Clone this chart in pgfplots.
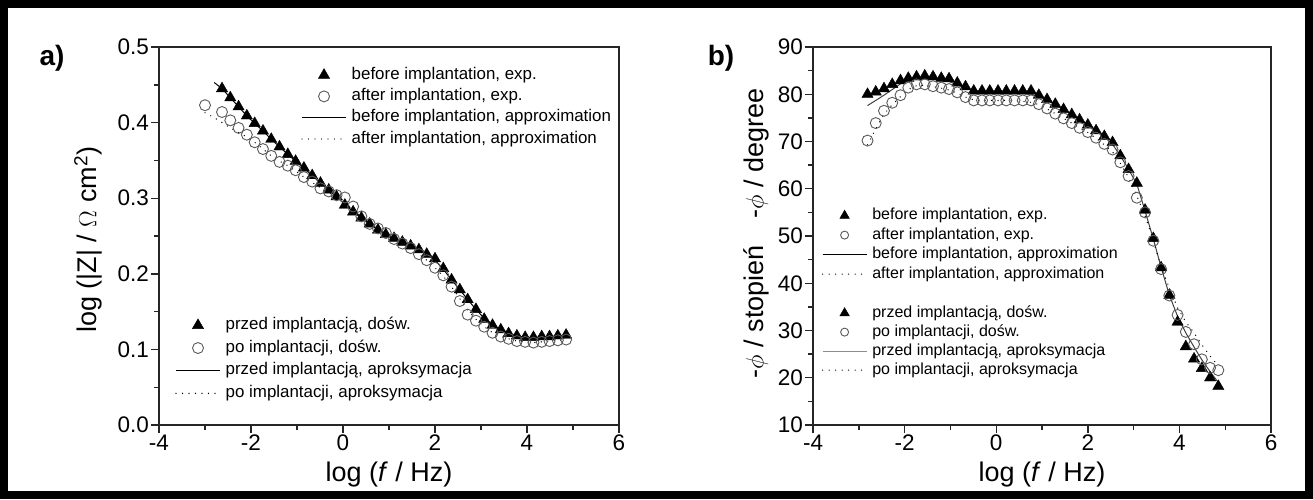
\documentclass[border=0pt]{standalone}
\usepackage{fontspec}
\setmainfont{Liberation Sans}
\usepackage{pgfplots}
\usepackage{pgfplotstable}
\pgfplotsset{compat=1.18}

% |Z| data, panel a)
\pgfplotstableread{
x y
-2.63 0.445
-2.45 0.433
-2.27 0.421
-2.09 0.409
-1.92 0.399
-1.74 0.389
-1.56 0.378
-1.38 0.368
-1.20 0.358
-1.03 0.349
-0.85 0.340
-0.67 0.330
-0.49 0.320
-0.31 0.311
-0.14 0.302
0.04 0.291
0.22 0.282
0.40 0.274
0.58 0.266
0.76 0.258
0.93 0.252
1.11 0.247
1.29 0.242
1.47 0.237
1.65 0.232
1.82 0.226
2.00 0.220
2.18 0.207
2.36 0.192
2.54 0.179
2.71 0.166
2.89 0.153
3.07 0.140
3.25 0.132
3.43 0.126
3.60 0.121
3.78 0.118
3.96 0.116
4.14 0.116
4.32 0.117
4.49 0.117
4.67 0.118
4.85 0.119
}\zbefore
\pgfplotstableread{
x y
-3.00 0.423
-2.63 0.414
-2.45 0.403
-2.27 0.393
-2.09 0.384
-1.92 0.374
-1.74 0.365
-1.56 0.356
-1.38 0.348
-1.20 0.343
-1.03 0.337
-0.85 0.328
-0.67 0.322
-0.49 0.313
-0.31 0.309
-0.14 0.304
0.04 0.301
0.22 0.289
0.40 0.276
0.58 0.266
0.76 0.260
0.93 0.254
1.11 0.246
1.29 0.240
1.47 0.234
1.65 0.226
1.82 0.218
2.00 0.208
2.18 0.198
2.36 0.183
2.54 0.164
2.71 0.146
2.89 0.138
3.07 0.130
3.25 0.122
3.43 0.117
3.60 0.114
3.78 0.111
3.96 0.110
4.14 0.109
4.32 0.110
4.49 0.111
4.67 0.112
4.85 0.113
}\zafter
\pgfplotstableread{
x y
-2.80 0.453
-2.63 0.445
-2.45 0.433
-2.27 0.421
-2.09 0.409
-1.92 0.399
-1.74 0.389
-1.56 0.378
-1.38 0.368
-1.20 0.358
-1.03 0.349
-0.85 0.340
-0.67 0.330
-0.49 0.320
-0.31 0.311
-0.14 0.302
0.04 0.292
0.22 0.282
0.40 0.274
0.58 0.266
0.76 0.258
0.93 0.252
1.11 0.247
1.29 0.242
1.47 0.237
1.65 0.232
1.82 0.226
2.00 0.218
2.18 0.206
2.36 0.192
2.54 0.179
2.71 0.166
2.89 0.153
3.07 0.141
3.25 0.132
3.43 0.126
3.60 0.121
3.78 0.118
3.96 0.116
4.14 0.116
4.32 0.116
4.49 0.117
4.67 0.118
4.85 0.119
}\zfitb
\pgfplotstableread{
x y
-3.00 0.413
-2.81 0.407
-2.63 0.400
-2.45 0.393
-2.27 0.387
-2.09 0.381
-1.92 0.374
-1.74 0.365
-1.56 0.356
-1.38 0.349
-1.20 0.343
-1.03 0.336
-0.85 0.328
-0.67 0.321
-0.49 0.314
-0.31 0.308
-0.14 0.302
0.04 0.296
0.22 0.287
0.40 0.276
0.58 0.267
0.76 0.260
0.93 0.253
1.11 0.246
1.29 0.240
1.47 0.234
1.65 0.226
1.82 0.218
2.00 0.208
2.18 0.197
2.36 0.183
2.54 0.167
2.71 0.152
2.89 0.140
3.07 0.130
3.25 0.122
3.43 0.117
3.60 0.114
3.78 0.111
3.96 0.110
4.14 0.109
4.32 0.110
4.49 0.111
4.67 0.112
4.85 0.113
}\zfita

% phase data, panel b)
\pgfplotstableread{
x y
-2.81 80.0
-2.63 80.5
-2.45 81.2
-2.27 82.1
-2.09 82.9
-1.92 83.4
-1.74 83.7
-1.56 83.9
-1.38 83.7
-1.20 83.4
-1.03 83.3
-0.85 82.4
-0.67 81.6
-0.49 80.7
-0.31 80.7
-0.14 80.7
0.04 80.7
0.22 80.7
0.40 80.7
0.58 80.7
0.76 80.7
0.93 79.8
1.11 78.9
1.29 77.9
1.47 76.8
1.65 75.7
1.82 74.6
2.00 73.5
2.18 72.3
2.36 71.1
2.54 69.8
2.71 67.0
2.89 64.1
3.07 61.2
3.25 55.5
3.43 49.5
3.60 43.3
3.78 37.5
3.96 31.8
4.14 26.6
4.32 24.0
4.49 22.0
4.67 20.0
4.85 18.2
}\pbefore
\pgfplotstableread{
x y
-2.81 70.2
-2.63 73.9
-2.45 76.5
-2.27 78.2
-2.09 79.8
-1.92 81.4
-1.74 82.1
-1.56 82.1
-1.38 81.7
-1.20 81.4
-1.03 81.1
-0.85 80.4
-0.67 79.4
-0.49 78.7
-0.31 78.7
-0.14 78.7
0.04 78.7
0.22 78.7
0.40 78.7
0.58 78.7
0.76 78.7
0.93 77.9
1.11 77.0
1.29 75.9
1.47 74.9
1.65 73.9
1.82 72.9
2.00 72.0
2.18 70.8
2.36 69.5
2.54 68.3
2.71 65.6
2.89 62.7
3.07 58.1
3.25 55.0
3.43 49.0
3.60 43.0
3.78 37.4
3.96 33.3
4.14 29.7
4.32 27.1
4.49 23.9
4.67 22.1
4.85 21.6
}\pafter
\pgfplotstableread{
x y
-2.81 77.6
-2.63 78.7
-2.45 79.8
-2.27 81.0
-2.09 82.2
-1.92 83.0
-1.74 83.4
-1.56 83.5
-1.38 83.4
-1.20 83.1
-1.03 82.7
-0.85 82.0
-0.67 81.3
-0.49 80.8
-0.31 80.6
-0.14 80.6
0.04 80.6
0.22 80.6
0.40 80.5
0.58 80.3
0.76 80.0
0.93 79.5
1.11 78.8
1.29 77.9
1.47 76.8
1.65 75.7
1.82 74.6
2.00 73.5
2.18 72.3
2.36 71.0
2.54 69.4
2.71 67.0
2.89 64.1
3.07 61.0
3.25 55.3
3.43 49.4
3.60 43.4
3.78 37.5
3.96 33.0
4.14 29.5
4.32 26.5
4.49 23.8
4.67 21.3
4.85 19.0
}\pfitb
\pgfplotstableread{
x y
-2.81 69.3
-2.63 72.7
-2.45 75.8
-2.27 77.8
-2.09 79.5
-1.92 81.0
-1.74 81.8
-1.56 81.9
-1.38 81.6
-1.20 81.3
-1.03 80.9
-0.85 80.2
-0.67 79.4
-0.49 78.8
-0.31 78.7
-0.14 78.7
0.04 78.7
0.22 78.7
0.40 78.6
0.58 78.5
0.76 78.3
0.93 77.8
1.11 76.9
1.29 75.9
1.47 74.9
1.65 73.9
1.82 72.9
2.00 71.9
2.18 70.7
2.36 69.3
2.54 67.8
2.71 65.4
2.89 62.4
3.07 58.5
3.25 54.3
3.43 49.0
3.60 43.5
3.78 39.0
3.96 34.8
4.14 31.8
4.32 29.5
4.49 27.0
4.67 24.6
4.85 22.5
}\pfita

\pgfplotsset{
  eis/.style={
    scale only axis, height=378pt,
    xmin=-4, xmax=6, xtick={-4,-2,...,6}, minor xtick={-3,-1,...,5},
    tick align=outside, xtick pos=bottom, ytick pos=left,
    major tick length=8pt, minor tick length=5pt,
    axis line style={line width=1.5pt, black!85},
    tick style={line width=1.4pt, black!85},
    tick label style={font=\fontsize{22.5}{24}\selectfont, inner sep=2pt},
    /pgf/number format/assume math mode=true,
    label style={font=\fontsize{27}{30}\selectfont},
    xlabel={log (\textit{f} / Hz)},
    xlabel style={at={(axis description cs:0.5,-0.132)}, anchor=center},
    clip=false,
  },
  tri/.style={only marks, mark=triangle*, mark size=6.5pt,
    mark options={fill=black, draw=black, line width=0.4pt}},
  circ/.style={only marks, mark=o, mark size=5.5pt,
    mark options={fill=white, draw=black!65, line width=0.9pt}},
  fitsolid/.style={no marks, line width=1pt, black},
  fitdot/.style={no marks, line width=1.4pt, black, line cap=round,
    dash pattern=on 0pt off 6.5pt},
  linelegend/.style={legend image code/.code={\draw[##1] (0pt,0pt) -- (44pt,0pt);}},
  marklegend/.style={legend image code/.code={\draw[##1] plot coordinates {(22pt,0pt)};}},
  legblock/.style={legend style={draw=none, fill=none, inner sep=0pt,
    column sep=4pt, row sep=#1, legend cell align=left,
    nodes={inner sep=1pt, text height=12pt, text depth=4pt}}},
}

\begin{document}
\begin{tikzpicture}
\path[use as bounding box] (0,0) rectangle (1313pt,499pt);
\draw[line width=8pt] (4pt,4pt) rectangle (1309pt,495pt);

\node[font=\bfseries\fontsize{28}{30}\selectfont] at (52pt,441pt) {a)};
\node[font=\bfseries\fontsize{28}{30}\selectfont] at (721pt,441pt) {b)};

% ---- panel a)
\begin{axis}[eis, name=za, at={(159pt,74pt)}, anchor=south west, width=460pt,
  ymin=0, ymax=0.5, ytick={0,0.1,...,0.5}, minor ytick={0.05,0.15,...,0.45},
  yticklabel style={/pgf/number format/.cd, fixed, fixed zerofill, precision=1},
  ylabel={log (|Z| / $\Omega$ cm\textsuperscript{2})},
  ylabel style={at={(axis description cs:-0.154,0.49)}, anchor=center},
  legblock=3.3pt, legend style={font=\fontsize{16.9}{18}\selectfont,
    at={(axis description cs:0.309,0.950)}, anchor=north west}]
\addplot[tri, forget plot] table {\zbefore};
\addplot[circ, forget plot] table {\zafter};
\addplot[fitsolid, forget plot] table {\zfitb};
\addplot[fitdot, forget plot] table {\zfita};
\addlegendimage{tri, marklegend}
\addlegendentry{before implantation, exp.}
\addlegendimage{circ, marklegend}
\addlegendentry{after implantation, exp.}
\addlegendimage{fitsolid, linelegend}
\addlegendentry{before implantation, approximation}
\addlegendimage{fitdot, linelegend}
\addlegendentry{after implantation, approximation}
\end{axis}
\begin{axis}[scale only axis, hide axis, at={(159pt,74pt)}, anchor=south west,
  width=460pt, height=378pt, xmin=-4, xmax=6, ymin=0, ymax=0.5,
  legblock=4.7pt, legend style={font=\fontsize{16.9}{18}\selectfont,
    at={(axis description cs:0.035,0.288)}, anchor=north west}]
\addlegendimage{tri, marklegend}
\addlegendentry{przed implantacją, dośw.}
\addlegendimage{circ, marklegend}
\addlegendentry{po implantacji, dośw.}
\addlegendimage{fitsolid, linelegend}
\addlegendentry{przed implantacją, aproksymacja}
\addlegendimage{fitdot, linelegend}
\addlegendentry{po implantacji, aproksymacja}
\end{axis}

% ---- panel b)
\begin{axis}[eis, name=ph, at={(813pt,74pt)}, anchor=south west, width=458pt,
  ymin=10, ymax=90, ytick={10,20,...,90}, minor ytick={15,25,...,85},
  ylabel={-$\phi$ / stopień\quad -$\phi$ / degree},
  ylabel style={at={(axis description cs:-0.124,0.507)}, anchor=center},
  legblock=2.5pt, legend style={font=\fontsize{16}{18}\selectfont,
    nodes={text height=11.5pt, text depth=3.5pt},
    at={(axis description cs:0.019,0.577)}, anchor=north west}]
\addplot[tri, forget plot] table {\pbefore};
\addplot[circ, forget plot] table {\pafter};
\addplot[fitsolid, black!75, forget plot] table {\pfitb};
\addplot[fitdot, forget plot] table {\pfita};
\addlegendimage{tri, mark size=5.5pt, marklegend}
\addlegendentry{before implantation, exp.}
\addlegendimage{circ, mark size=4pt, marklegend}
\addlegendentry{after implantation, exp.}
\addlegendimage{fitsolid, linelegend}
\addlegendentry{before implantation, approximation}
\addlegendimage{fitdot, linelegend}
\addlegendentry{after implantation, approximation}
\end{axis}
\begin{axis}[scale only axis, hide axis, at={(813pt,74pt)}, anchor=south west,
  width=458pt, height=378pt, xmin=-4, xmax=6, ymin=10, ymax=90,
  legblock=2pt, legend style={font=\fontsize{16}{18}\selectfont,
    nodes={text height=11.5pt, text depth=3.5pt},
    at={(axis description cs:0.019,0.319)}, anchor=north west}]
\addlegendimage{tri, mark size=5.5pt, marklegend}
\addlegendentry{przed implantacją, dośw.}
\addlegendimage{circ, mark size=4pt, marklegend}
\addlegendentry{po implantacji, dośw.}
\addlegendimage{fitsolid, black!45, linelegend}
\addlegendentry{przed implantacją, aproksymacja}
\addlegendimage{fitdot, linelegend}
\addlegendentry{po implantacji, aproksymacja}
\end{axis}
\end{tikzpicture}
\end{document}
